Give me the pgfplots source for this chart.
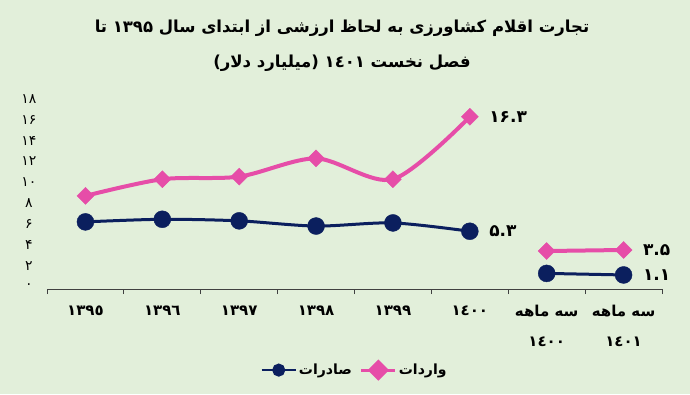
\documentclass[border=0pt]{standalone}
\usepackage{fontspec}
\usepackage{pgfplots}
\pgfplotsset{compat=1.18}
\TeXXeTstate=1
\setmainfont{DejaVu Sans}
\newfontfamily\fa[Script=Arabic]{DejaVu Sans}
\definecolor{bg}{HTML}{E2EFDA}
\definecolor{navy}{HTML}{0B1F5E}
\definecolor{pinkc}{HTML}{E64DA8}
\definecolor{axc}{HTML}{404040}
\begin{document}
\begin{tikzpicture}
\fill[bg] (0,0) rectangle (690pt,394pt);
\node[font=\fa\bfseries\fontsize{16.5}{20}\selectfont] at (342pt,366pt) {\beginR تجارت اقلام کشاورزی به لحاظ ارزشی از ابتدای سال \beginL ۱۳۹۵\endL{} تا\endR};
\node[font=\fa\bfseries\fontsize{16.5}{20}\selectfont] at (342pt,331pt) {\beginR فصل نخست \beginL ١٤٠١\endL{} (میلیارد دلار)\endR};
\begin{axis}[
  at={(47pt,105pt)}, anchor=south west,
  width=615pt, height=189.9pt, scale only axis,
  xmin=-0.5, xmax=7.5, ymin=-0.25, ymax=18,
  axis x line*=bottom, axis y line*=left,
  y axis line style={draw=none},
  x axis line style={draw=axc, line width=0.8pt, -},
  tick align=outside,
  xtick={-0.5,0.5,...,7.5}, xticklabels={},
  major tick length=5pt,
  xtick style={draw=axc, line width=0.8pt},
  extra x ticks={0,1,2,3,4,5,6,7},
  extra x tick labels={١٣٩٥,١٣٩٦,١٣٩٧,١٣٩٨,١٣٩٩,١٤٠٠,{\beginR سه ماهه\endR\\١٤٠٠},{\beginR سه ماهه\endR\\١٤٠١}},
  extra x tick style={major tick length=0pt, xtick style={draw=none}},
  xticklabel style={font=\fa\bfseries\fontsize{15}{30}\selectfont, align=center, anchor=north, yshift=-13pt},
  ytick={0,2,...,18},
  yticklabels={۰,۲,۴,۶,۸,۱۰,۱۲,۱۴,۱۶,۱۸},
  ytick style={draw=none},
  yticklabel style={font=\fa\fontsize{14}{16}\selectfont, anchor=center, xshift=-13pt},
  legend columns=2,
  legend style={at={(0.5,-0.427)}, anchor=center, draw=none, fill=none,
    font=\fa\bfseries\fontsize{14}{16}\selectfont,
    /tikz/every even column/.append style={column sep=6pt}},
  clip=false,
]
\addplot[navy, line width=3pt, smooth, tension=0.5, mark=*, mark size=8.5pt, mark options={line width=0.4pt},
  legend image code/.code={\draw[navy, line width=2.5pt] (0pt,0pt) -- (34pt,0pt); \fill[navy] (17pt,0pt) circle (5pt);}]
  coordinates {(0,6.2)(1,6.45)(2,6.3)(3,5.8)(4,6.1)(5,5.3)};
\addlegendentry{صادرات}
\addplot[pinkc, line width=4pt, smooth, tension=0.5, mark=square*, mark size=6pt, mark options={rotate=45, line width=0.4pt},
  legend image code/.code={\draw[pinkc, line width=3pt] (0pt,0pt) -- (34pt,0pt); \fill[pinkc, rotate around={45:(17pt,0pt)}] (11.5pt,-5.5pt) rectangle (22.5pt,5.5pt);}]
  coordinates {(0,8.7)(1,10.3)(2,10.55)(3,12.3)(4,10.3)(5,16.3)};
\addlegendentry{واردات}
\addplot[navy, line width=3pt, smooth, tension=0.5, mark=*, mark size=8.5pt, mark options={line width=0.4pt}, forget plot]
  coordinates {(6,1.25)(7,1.1)};
\addplot[pinkc, line width=4pt, smooth, tension=0.5, mark=square*, mark size=6pt, mark options={rotate=45, line width=0.4pt}, forget plot]
  coordinates {(6,3.4)(7,3.5)};
\node[anchor=west, font=\fa\bfseries\fontsize{17}{20}\selectfont, xshift=16pt] at (axis cs:5,16.3) {۱۶.۳};
\node[anchor=west, font=\fa\bfseries\fontsize{17}{20}\selectfont, xshift=16pt] at (axis cs:5,5.3) {۵.۳};
\node[anchor=west, font=\fa\bfseries\fontsize{17}{20}\selectfont, xshift=16pt] at (axis cs:7,3.5) {۳.۵};
\node[anchor=west, font=\fa\bfseries\fontsize{17}{20}\selectfont, xshift=16pt] at (axis cs:7,1.1) {۱.۱};
\end{axis}
\pgfresetboundingbox
\path (0,0) rectangle (690pt,394pt);
\end{tikzpicture}
\end{document}
